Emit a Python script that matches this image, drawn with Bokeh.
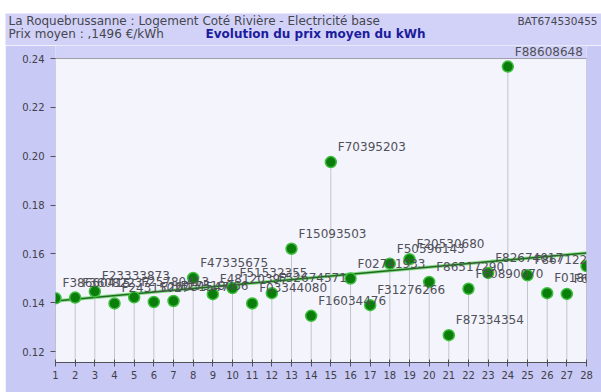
import numpy as np
from bokeh.plotting import figure
from bokeh.models import (Range1d, FixedTicker, PrintfTickFormatter, Label, LabelSet,
                          ColumnDataSource, BoxAnnotation, Spacer)
from bokeh.layouts import column, row
from bokeh.embed import file_html
from bokeh.resources import INLINE
from bokeh.core.properties import value

# ---- data ----
periods = list(range(1, 29))
prices = [0.1418, 0.1421, 0.1446, 0.1397, 0.1422, 0.1403, 0.1407, 0.1501, 0.1435, 0.1460,
          0.1397, 0.1439, 0.1621, 0.1346, 0.1976, 0.1499, 0.1390, 0.1560, 0.1578, 0.1485,
          0.1267, 0.1457, 0.1522, 0.2367, 0.1512, 0.1439, 0.1436, 0.1550]
invoices = ["F38660415", "F36082237", "F23333873", "F24315027", "F25780413", "F26031547",
            "F27519066", "F47335675", "F48120397", "F51532355", "F03344080", "F52674571",
            "F15093503", "F16034476", "F70395203", "F02741933", "F31276266", "F50596143",
            "F20530680", "F86517290", "F87334354", "F60890070", "F82674017", "F88608648",
            "F86712217", "F01866535", "F67178902", "F09718264"]
y_ticks = [0.12, 0.14, 0.16, 0.18, 0.20, 0.22, 0.24]

header_left = "La Roquebrussanne : Logement Coté Rivière - Electricité base"
header_right = "BAT674530455"
subtitle = "Prix moyen : ,1496 €/kWh"
title = "Evolution du prix moyen du kWh"

FONT = "DejaVu Sans"
BORDER = "#c9c9f5"
HEAD = "#d2d2f8"
Y_HI = 0.24
Y0 = 0.1155            # axis floor
Y_TOP = 0.24535        # room above the plot area for the top label

# ---- header strip (separate root so its frame is not aligned with the chart) ----
W = 596
h = figure(width=W, height=32, x_range=Range1d(0, W), y_range=Range1d(0, 32),
           output_backend="svg", toolbar_location=None, min_border=0,
           x_axis_location=None, y_axis_location=None)
h.grid.grid_line_color = None
h.outline_line_color = None
h.background_fill_color = HEAD
h.border_fill_color = HEAD
h.add_layout(Label(x=3, y=25, text=header_left, text_font=FONT, text_font_size="12px",
                   text_color="#46464e", text_baseline="middle"))
h.add_layout(Label(x=592, y=25, text=header_right, text_font=FONT, text_font_size="10.5px",
                   text_color="#46464e", text_baseline="middle", text_align="right"))
h.add_layout(Label(x=3, y=12, text=subtitle, text_font=FONT, text_font_size="12px",
                   text_color="#46464e", text_baseline="middle"))
h.add_layout(Label(x=200, y=12, text=title, text_font=FONT, text_font_size="12px",
                   text_font_style="bold", text_color="#1c1c9c", text_baseline="middle"))

# ---- main chart ----
p = figure(width=W, height=347, output_backend="svg", toolbar_location=None,
           x_range=Range1d(1, 28), y_range=Range1d(Y0, Y_TOP),
           min_border_left=50, min_border_right=15, min_border_top=0, min_border_bottom=30)
p.border_fill_color = BORDER
p.background_fill_color = HEAD
p.outline_line_color = None

p.add_layout(BoxAnnotation(top=Y_HI, fill_color="#f4f4fd", fill_alpha=1,
                           line_color=None, level="underlay"))

p.xaxis.ticker = FixedTicker(ticks=periods)
p.yaxis.ticker = FixedTicker(ticks=y_ticks)
p.yaxis.formatter = PrintfTickFormatter(format="%.2f")
for ax in (p.xaxis[0], p.yaxis[0]):
    ax.axis_line_color = "#505058"
    ax.major_tick_line_color = "#505058"
    ax.minor_tick_line_color = None
    ax.major_label_text_font = FONT
    ax.major_label_text_font_size = "10px"
    ax.major_label_text_color = "#404048"
p.yaxis.axis_line_color = None
p.xaxis.major_tick_in = 3
p.xaxis.major_tick_out = 4
p.xaxis.major_label_standoff = 4
p.yaxis.major_tick_in = 0
p.yaxis.major_tick_out = 5
p.yaxis.major_label_standoff = 6

p.xgrid.grid_line_color = None
p.ygrid.grid_line_color = "#8a8a94"
p.ygrid.grid_line_width = 1

# drop lines
p.segment(x0=periods, y0=[Y0] * len(periods), x1=periods, y1=prices,
          line_color="#c4c4cc", line_width=1)

# trend line (least squares)
slope, icpt = np.polyfit(periods, prices, 1)
tx = [periods[0], periods[-1]]
ty = [icpt + slope * t for t in tx]
p.line(tx, ty, line_color="#8fdc8f", line_width=3.5)
p.line(tx, ty, line_color="#1d6b1d", line_width=1.5)

src = ColumnDataSource(dict(x=periods, y=prices, t=invoices))
p.add_layout(LabelSet(x="x", y="y", text="t", source=src, x_offset=7, y_offset=8,
                      text_font=value(FONT), text_font_size=value("12px"),
                      text_color="#505058", text_baseline="bottom"))

p.scatter(x="x", y="y", source=src, size=11, fill_color="#0b7d0b",
          line_color="#3fbf3f", line_width=1.5)

p.add_layout(BoxAnnotation(top=Y_HI, fill_alpha=0, line_color="#55555e", line_width=1))

root_head = column(Spacer(height=13), row(Spacer(width=5), h))
root_main = row(Spacer(width=5), p)
open("out.html", "w").write(file_html([root_head, root_main], INLINE))
